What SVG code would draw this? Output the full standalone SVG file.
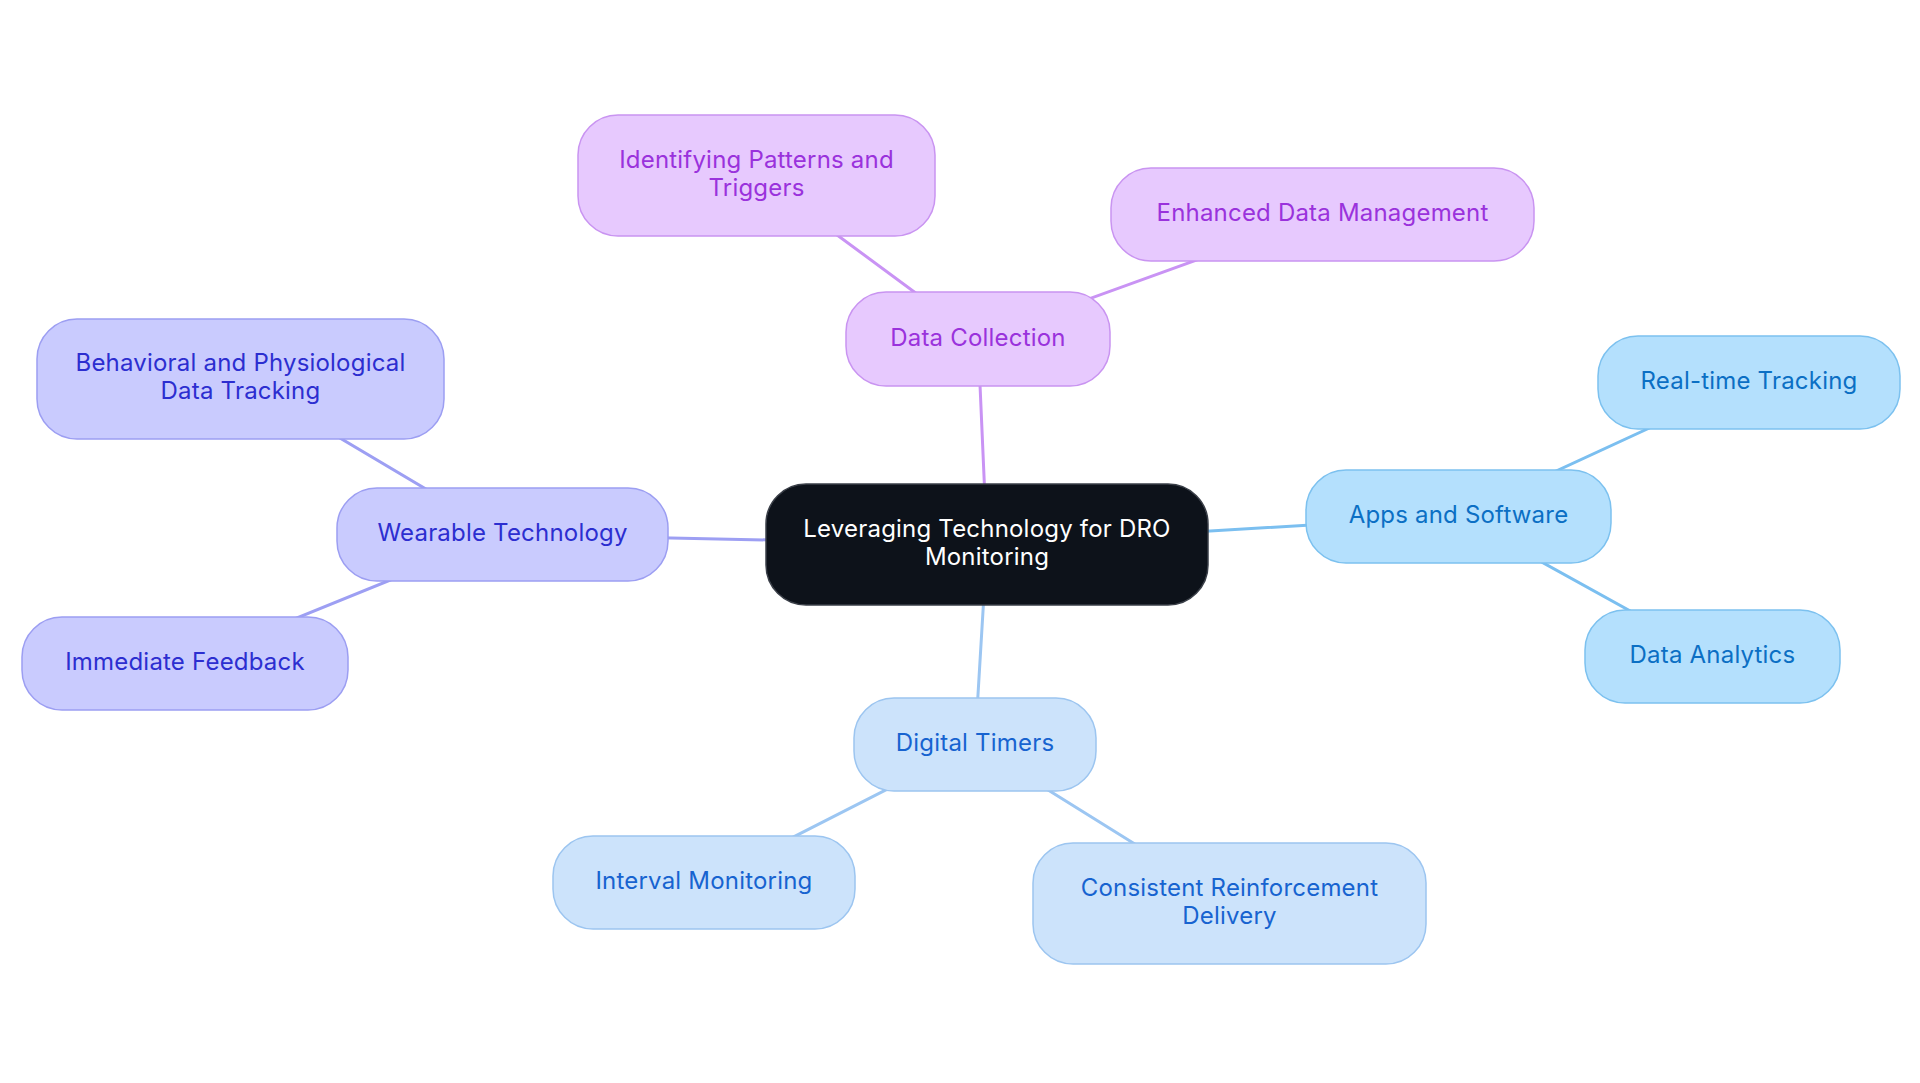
<svg xmlns="http://www.w3.org/2000/svg" width="1920" height="1083" viewBox="0 0 1920 1083">
<style>
text{font-family:Inter,"Noto Sans","Liberation Sans",sans-serif;font-size:24px;letter-spacing:0.2px;text-anchor:middle}
.e{fill:none;stroke-width:3;stroke-linecap:round}
.ep{stroke:#c993f4}.ew{stroke:#9d9ff3}.ea{stroke:#7bbff0}.ed{stroke:#9cc6f2}
.np{fill:#e7c9fe;stroke:#c994f1;stroke-width:1.5}.tp{fill:#9a32dc}
.nw{fill:#c9cbfe;stroke:#9c9ef2;stroke-width:1.5}.tw{fill:#2c2ed0}
.na{fill:#b4e0fd;stroke:#7cc1ef;stroke-width:1.5}.ta{fill:#0b6fc4}
.nd{fill:#cce3fb;stroke:#9cc5f0;stroke-width:1.5}.td{fill:#1763d0}
.nc{fill:#0d121a;stroke:#3a3f48;stroke-width:1.5}.tc{fill:#ffffff}
</style>
<rect width="1920" height="1083" fill="#ffffff"/>
<g id="connectors">
<line class="e ep" x1="987" y1="544.5" x2="978" y2="339"/>
<line class="e ep" x1="978" y1="339" x2="756.5" y2="175.5"/>
<line class="e ep" x1="978" y1="339" x2="1322.5" y2="214.5"/>
<line class="e ew" x1="987" y1="544.5" x2="502.5" y2="534.5"/>
<line class="e ew" x1="502.5" y1="534.5" x2="240.5" y2="379"/>
<line class="e ew" x1="502.5" y1="534.5" x2="185" y2="663.5"/>
<line class="e ea" x1="987" y1="544.5" x2="1458.5" y2="516"/>
<line class="e ea" x1="1458.5" y1="516" x2="1749" y2="382"/>
<line class="e ea" x1="1458.5" y1="516" x2="1712.5" y2="656.5"/>
<line class="e ed" x1="987" y1="544.5" x2="975" y2="744.5"/>
<line class="e ed" x1="975" y1="744.5" x2="704" y2="882.5"/>
<line class="e ed" x1="975" y1="744.5" x2="1229.5" y2="903"/>
</g>
<g id="root">
<rect class="nc" x="766" y="484" width="442" height="121" rx="40"/>
<text class="tc" x="987" y="537">Leveraging Technology for DRO</text>
<text class="tc" x="987" y="565">Monitoring</text>
</g>
<g id="data-collection">
<rect class="np" x="846" y="292" width="264" height="94" rx="40"/>
<text class="tp" x="978" y="346">Data Collection</text>
</g>
<g id="identifying-patterns">
<rect class="np" x="578" y="115" width="357" height="121" rx="40"/>
<text class="tp" x="756.5" y="168">Identifying Patterns and</text>
<text class="tp" x="756.5" y="196">Triggers</text>
</g>
<g id="enhanced-data">
<rect class="np" x="1111" y="168" width="423" height="93" rx="40"/>
<text class="tp" x="1322.5" y="221">Enhanced Data Management</text>
</g>
<g id="wearable">
<rect class="nw" x="337" y="488" width="331" height="93" rx="40"/>
<text class="tw" x="502.5" y="541">Wearable Technology</text>
</g>
<g id="behavioral">
<rect class="nw" x="37" y="319" width="407" height="120" rx="40"/>
<text class="tw" x="240.5" y="371">Behavioral and Physiological</text>
<text class="tw" x="240.5" y="399">Data Tracking</text>
</g>
<g id="immediate-feedback">
<rect class="nw" x="22" y="617" width="326" height="93" rx="40"/>
<text class="tw" x="185" y="670">Immediate Feedback</text>
</g>
<g id="apps">
<rect class="na" x="1306" y="470" width="305" height="93" rx="40"/>
<text class="ta" x="1458.5" y="523">Apps and Software</text>
</g>
<g id="real-time">
<rect class="na" x="1598" y="336" width="302" height="93" rx="40"/>
<text class="ta" x="1749" y="389">Real-time Tracking</text>
</g>
<g id="data-analytics">
<rect class="na" x="1585" y="610" width="255" height="93" rx="40"/>
<text class="ta" x="1712.5" y="663">Data Analytics</text>
</g>
<g id="digital-timers">
<rect class="nd" x="854" y="698" width="242" height="93" rx="40"/>
<text class="td" x="975" y="751">Digital Timers</text>
</g>
<g id="interval-monitoring">
<rect class="nd" x="553" y="836" width="302" height="93" rx="40"/>
<text class="td" x="704" y="889">Interval Monitoring</text>
</g>
<g id="consistent-reinforcement">
<rect class="nd" x="1033" y="843" width="393" height="121" rx="40"/>
<text class="td" x="1229.5" y="896">Consistent Reinforcement</text>
<text class="td" x="1229.5" y="924">Delivery</text>
</g>
</svg>
